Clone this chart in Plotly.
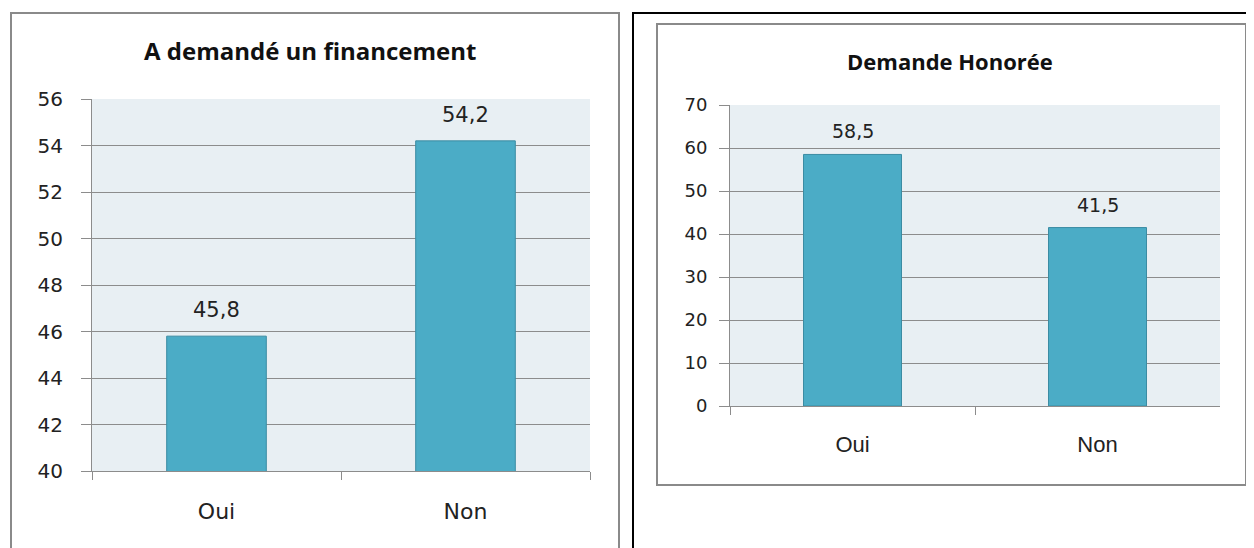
import plotly.graph_objects as go

categories = ["Oui", "Non"]
financement = [45.8, 54.2]
honoree = [58.5, 41.5]

# the page puts an 8 px margin round the figure
OFF = 8
W, H = 1254 - OFF, 548 - OFF
BAR = "#4BACC6"
EDGE = "#3B8CA3"
GRID = "#8C8C8C"
BG = "#E8EFF3"


def px_x(p):
    return (p - OFF) / W


def px_y(p):
    return 1 - (p - OFF) / H


def fmt(v):
    return f"{v:.1f}".replace(".", ",")


fig = go.Figure()

fig.add_trace(go.Bar(x=categories, y=financement, xaxis="x", yaxis="y", width=0.4,
                     marker=dict(color=BAR, line=dict(color=EDGE, width=1)), showlegend=False))
fig.add_trace(go.Bar(x=categories, y=honoree, xaxis="x2", yaxis="y2", width=0.4,
                     marker=dict(color=BAR, line=dict(color=EDGE, width=1)), showlegend=False))

# data labels
for c, v in zip(categories, financement):
    fig.add_annotation(x=c, y=v, xref="x", yref="y", text=fmt(v), showarrow=False,
                       yanchor="bottom", yshift=12, font=dict(family="DejaVu Sans", size=21, color="#222"))
for c, v in zip(categories, honoree):
    fig.add_annotation(x=c, y=v, xref="x2", yref="y2", text=fmt(v), showarrow=False,
                       yanchor="bottom", yshift=10, font=dict(family="DejaVu Sans", size=19, color="#222"))

# titles
fig.add_annotation(x=px_x(310), y=px_y(51), xref="paper", yref="paper", showarrow=False,
                   xanchor="center", yanchor="middle",
                   text="<b>A demandé un financement</b>",
                   font=dict(family="Open Sans", size=24, color="#111"))
fig.add_annotation(x=px_x(950), y=px_y(61), xref="paper", yref="paper", showarrow=False,
                   xanchor="center", yanchor="middle",
                   text="<b>Demande Honorée</b>",
                   font=dict(family="Open Sans", size=22, color="#111"))

# frames
fig.add_shape(type="rect", xref="paper", yref="paper", x0=px_x(11), x1=px_x(619),
              y0=px_y(560), y1=px_y(13), line=dict(color="#8A8A8A", width=2))
fig.add_shape(type="rect", xref="paper", yref="paper", x0=px_x(633), x1=px_x(1270),
              y0=px_y(560), y1=px_y(13), line=dict(color="#000", width=2))
fig.add_shape(type="rect", xref="paper", yref="paper", x0=px_x(657), x1=px_x(1246),
              y0=px_y(485), y1=px_y(24), line=dict(color="#8A8A8A", width=2))

# backgrounds
fig.add_shape(type="rect", xref="x domain", yref="y domain", x0=0, x1=1, y0=0, y1=1,
              fillcolor=BG, line=dict(width=0), layer="below")
fig.add_shape(type="rect", xref="x2 domain", yref="y2 domain", x0=0, x1=1, y0=0, y1=1,
              fillcolor=BG, line=dict(width=0), layer="below")

xcommon = dict(type="category", showline=True, linecolor=GRID, linewidth=1, ticks="outside",
               tickson="boundaries", ticklen=8, tickcolor=GRID, showgrid=False, automargin=False)
ycommon = dict(showline=True, linecolor=GRID, linewidth=1, ticks="outside", ticklen=10,
               tickcolor=GRID, gridcolor=GRID, gridwidth=1, zeroline=False, automargin=False)

fig.update_layout(
    width=W, height=H, autosize=False,
    margin=dict(l=0, r=0, t=0, b=0, pad=0),
    paper_bgcolor="white",
    plot_bgcolor="rgba(0,0,0,0)",
    xaxis=dict(domain=[px_x(92), px_x(590)], anchor="y", ticklabelstandoff=21,
               tickfont=dict(family="DejaVu Sans", size=22, color="#222"), **xcommon),
    yaxis=dict(domain=[px_y(471), px_y(99)], anchor="x", range=[40, 56], dtick=2,
               ticklabelstandoff=14,
               tickfont=dict(family="DejaVu Sans", size=20, color="#222"), **ycommon),
    xaxis2=dict(domain=[px_x(730), px_x(1220)], anchor="y2", ticklabelstandoff=19,
                tickfont=dict(family="Liberation Sans", size=22, color="#222"), **xcommon),
    yaxis2=dict(domain=[px_y(406), px_y(105)], anchor="x2", range=[0, 70], dtick=10,
                ticklabelstandoff=8,
                tickfont=dict(family="DejaVu Sans", size=18, color="#222"), **ycommon),
)

fig.write_html("out.html")
